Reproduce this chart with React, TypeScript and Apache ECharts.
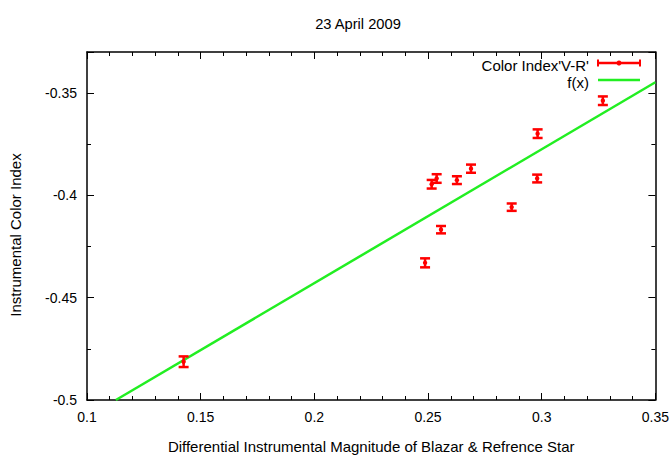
import React, { useEffect, useRef } from "react";
import * as echarts from "echarts";

const titleText = "23 April 2009";
const xAxisTitle = "Differential Instrumental Magnitude of Blazar & Refrence Star";
const yAxisTitle = "Instrumental Color Index";
const seriesNames = ["Color Index'V-R'", "f(x)"];

const xValues = [0.1425, 0.2487, 0.2516, 0.2538, 0.2557, 0.2627, 0.2689, 0.2868, 0.2982, 0.2980, 0.3269];
const yValues = [-0.4813, -0.4330, -0.3946, -0.3918, -0.4168, -0.3926, -0.3870, -0.4058, -0.3699, -0.3918, -0.3538];
const yErrors = [0.0026, 0.0022, 0.0021, 0.0021, 0.0018, 0.0019, 0.0020, 0.0018, 0.0021, 0.0019, 0.0021];

const fitX = [0.1127, 0.35];
const fitY = [-0.5, -0.3448];

const xTicks = { min: 0.1, max: 0.35, interval: 0.05 };
const yTicks = { min: -0.5, max: -0.33, interval: 0.05 };

const FONT = "'Liberation Sans', Arial, sans-serif";
const RED = "#ff0000";
const GREEN = "#22ee22";

export default function App() {
  const ref = useRef<HTMLDivElement>(null);

  useEffect(() => {
    if (!ref.current) return;
    const chart = echarts.init(ref.current, null, { renderer: "svg" });

    const errData = xValues.map((x, i) => [x, yValues[i], yErrors[i]]);
    const fitData = fitX.map((x, i) => [x, fitY[i]]);

    const axisCommon = {
      type: "value" as const,
      splitLine: { show: false },
      axisLine: { show: true, onZero: false, lineStyle: { color: "#000", width: 1.5 } },
      axisTick: { show: true, inside: true, length: 7, lineStyle: { color: "#000", width: 1 } },
    };

    const option: any = {
      animation: false,
      backgroundColor: "#fff",
      textStyle: { fontFamily: FONT },
      title: {
        text: titleText,
        left: 353,
        top: 11,
        textAlign: "center",
        textStyle: { fontFamily: FONT, fontSize: 14.7, fontWeight: "normal", color: "#000" },
      },
      grid: { left: 87, right: 14, top: 52, bottom: 52, containLabel: false },
      xAxis: [
        {
          ...axisCommon,
          position: "bottom",
          ...xTicks,
          minorTick: { show: true, splitNumber: 5, length: 4, lineStyle: { color: "#000" } },
          axisLabel: { color: "#000", fontSize: 14, fontFamily: FONT, margin: 10 },
          name: xAxisTitle,
          nameLocation: "middle",
          nameGap: 39,
          nameTextStyle: { color: "#000", fontSize: 15, fontFamily: FONT },
        },
        {
          ...axisCommon,
          position: "top",
          ...xTicks,
          minorTick: { show: true, splitNumber: 5, length: 4, lineStyle: { color: "#000" } },
          axisLabel: { show: false },
        },
      ],
      yAxis: [
        {
          ...axisCommon,
          position: "left",
          ...yTicks,
          minorTick: { show: true, splitNumber: 2, length: 4, lineStyle: { color: "#000" } },
          axisLabel: { color: "#000", fontSize: 14, fontFamily: FONT, margin: 10, showMaxLabel: false },
        },
        {
          ...axisCommon,
          position: "right",
          ...yTicks,
          minorTick: { show: true, splitNumber: 2, length: 4, lineStyle: { color: "#000" } },
          axisLabel: { show: false },
        },
      ],
      series: [
        {
          name: seriesNames[1],
          type: "line",
          data: fitData,
          showSymbol: false,
          lineStyle: { color: GREEN, width: 2.5 },
          clip: true,
          z: 2,
        },
        {
          name: seriesNames[0],
          type: "custom",
          data: errData,
          encode: { x: 0, y: 1 },
          z: 3,
          renderItem: (params: any, api: any) => {
            const x = api.value(0);
            const y = api.value(1);
            const e = api.value(2);
            const top = api.coord([x, y + e]);
            const bot = api.coord([x, y - e]);
            const c = api.coord([x, y]);
            const hw = 5;
            const style = { stroke: RED, lineWidth: 2.5, fill: null };
            return {
              type: "group",
              children: [
                { type: "line", shape: { x1: top[0], y1: top[1], x2: bot[0], y2: bot[1] }, style },
                { type: "line", shape: { x1: top[0] - hw, y1: top[1], x2: top[0] + hw, y2: top[1] }, style },
                { type: "line", shape: { x1: bot[0] - hw, y1: bot[1], x2: bot[0] + hw, y2: bot[1] }, style },
                { type: "circle", shape: { cx: c[0], cy: c[1], r: 2.2 }, style: { fill: RED } },
              ],
            };
          },
        },
      ],
      graphic: [
        {
          type: "text",
          x: 15,
          y: 235,
          rotation: Math.PI / 2,
          style: { text: yAxisTitle, font: `15px ${FONT}`, fill: "#000", textAlign: "center", textVerticalAlign: "middle" },
        },
        {
          type: "text",
          x: 589,
          y: 65.5,
          style: { text: seriesNames[0], font: `15px ${FONT}`, fill: "#000", textAlign: "right", textVerticalAlign: "middle" },
        },
        { type: "line", shape: { x1: 598, y1: 63, x2: 640, y2: 63 }, style: { stroke: RED, lineWidth: 2.5 } },
        { type: "line", shape: { x1: 598, y1: 59.5, x2: 598, y2: 66.5 }, style: { stroke: RED, lineWidth: 2 } },
        { type: "line", shape: { x1: 640, y1: 59.5, x2: 640, y2: 66.5 }, style: { stroke: RED, lineWidth: 2 } },
        { type: "circle", shape: { cx: 619, cy: 63, r: 2.5 }, style: { fill: RED } },
        {
          type: "text",
          x: 589,
          y: 82,
          style: { text: seriesNames[1], font: `15px ${FONT}`, fill: "#000", textAlign: "right", textVerticalAlign: "middle" },
        },
        { type: "line", shape: { x1: 598, y1: 80, x2: 640, y2: 80 }, style: { stroke: GREEN, lineWidth: 2.5 } },
      ],
    };

    chart.setOption(option);
    return () => chart.dispose();
  }, []);

  return (
    <div
      ref={ref}
      style={{ position: "fixed", left: 0, top: 0, width: 672, height: 459, background: "#fff" }}
    />
  );
}
